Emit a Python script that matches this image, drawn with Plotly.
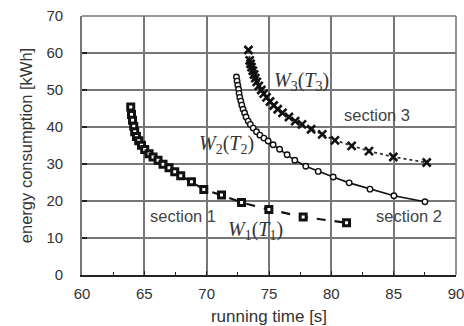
import plotly.graph_objects as go

# Section 1: W1(T1)
t1 = [63.91, 63.97, 64.05, 64.15, 64.23, 64.37, 64.55, 64.77, 65.03, 65.38, 65.70,
      66.10, 66.50, 66.98, 67.44, 67.92, 68.78, 69.77, 71.19, 72.80, 74.99, 77.74, 81.22]
w1 = [45.4, 43.4, 41.8, 40.2, 38.7, 37.4, 36.3, 35.1, 33.9, 32.8, 31.9,
      31.0, 29.9, 29.0, 27.9, 26.8, 25.2, 23.1, 21.6, 19.6, 17.7, 15.7, 14.1]

# Section 2: W2(T2)
t2 = [72.39, 72.44, 72.50, 72.56, 72.60, 72.66, 72.74, 72.82, 72.92, 73.04, 73.16,
      73.33, 73.50, 73.73, 74.00, 74.27, 74.59, 74.93, 75.33, 75.85, 76.45, 77.07,
      77.95, 78.95, 80.15, 81.43, 83.10, 85.02, 87.51]
w2 = [53.5, 52.4, 51.3, 50.2, 49.1, 48.0, 47.0, 45.9, 44.8, 43.8, 42.7,
      41.6, 40.7, 39.7, 38.7, 37.8, 37.0, 36.2, 35.2, 34.0, 32.5, 31.0,
      29.4, 28.0, 26.5, 24.9, 23.2, 21.4, 19.8]

# Section 3: W3(T3)
t3 = [73.35, 73.45, 73.52, 73.60, 73.70, 73.80, 73.90, 74.02, 74.18, 74.38, 74.58,
      74.80, 75.08, 75.38, 75.70, 76.08, 76.60, 77.10, 77.65, 78.38, 79.27, 80.29,
      81.63, 83.02, 84.97, 87.65]
w3 = [60.8, 58.0, 57.1, 56.2, 55.2, 54.2, 53.2, 52.2, 51.1, 50.0, 49.0,
      48.0, 46.9, 45.8, 44.8, 43.8, 42.7, 41.6, 40.7, 39.4, 38.0, 36.4,
      34.9, 33.5, 31.9, 30.4]

x_ticks = [60, 65, 70, 75, 80, 85, 90]
y_ticks = [0, 10, 20, 30, 40, 50, 60, 70]

labels = [
    ("<i>W</i><sub>3</sub>(<i>T</i><sub>3</sub>)", 77.6, 52.2, "serif"),
    ("<i>W</i><sub>2</sub>(<i>T</i><sub>2</sub>)", 71.6, 35.4, "serif"),
    ("<i>W</i><sub>1</sub>(<i>T</i><sub>1</sub>)", 73.9, 12.0, "serif"),
    ("section 3", 83.65, 43.2, "sans"),
    ("section 1", 68.1, 16.0, "sans"),
    ("section 2", 86.2, 16.0, "sans"),
]

GRID = "#777777"

fig = go.Figure()
fig.add_trace(go.Scatter(
    x=t1, y=w1, mode="lines+markers",
    line=dict(color="#111", width=2.2, dash="dash"),
    marker=dict(symbol="square", size=6, color="white",
                line=dict(color="#111", width=3)),
    showlegend=False))
fig.add_trace(go.Scatter(
    x=t2, y=w2, mode="lines+markers",
    line=dict(color="#111", width=1.6),
    marker=dict(symbol="circle", size=5.5, color="white",
                line=dict(color="#111", width=1.4)),
    showlegend=False))
fig.add_trace(go.Scatter(
    x=t3, y=w3, mode="lines+markers",
    line=dict(color="#333", width=1.8, dash="dot"),
    marker=dict(symbol="x-thin", size=8, color="#111",
                line=dict(color="#111", width=2.6)),
    showlegend=False))

for txt, x, y, kind in labels:
    if kind == "serif":
        font = dict(family="Liberation Serif, Times New Roman, serif", size=20, color="#333")
    else:
        font = dict(family="Liberation Sans, Arial, sans-serif", size=16.5, color="#444")
    fig.add_annotation(x=x, y=y, text=txt, showarrow=False, font=font,
                       bgcolor="rgba(255,255,255,0)", xanchor="center", yanchor="middle")

fig.update_layout(
    width=464, height=326,
    margin=dict(l=82, r=8, t=16, b=51, autoexpand=False),
    paper_bgcolor="white", plot_bgcolor="white",
    font=dict(family="Liberation Sans, Arial, sans-serif", color="#333"),
)
fig.update_xaxes(
    range=[60, 90], tickvals=x_ticks, ticktext=[str(v) for v in x_ticks],
    showgrid=True, gridcolor=GRID, gridwidth=1.6, automargin=False,
    showline=True, linecolor="#222", linewidth=1.5, mirror=False,
    ticks="inside", ticklen=4, tickcolor="#222", tickwidth=1.3,
    minor=dict(tickvals=[62.5, 67.5, 72.5, 77.5, 82.5, 87.5], ticks="inside",
               ticklen=3, tickcolor="#222", tickwidth=1.3, showgrid=False),
    tickfont=dict(size=15, color="#333"), ticklabelstandoff=4,
    ticklabeloverflow="allow",
    title=dict(text="running time [s]", font=dict(size=17, color="#333"), standoff=14),
    zeroline=False,
)
fig.update_yaxes(
    range=[0, 70], tickvals=y_ticks, ticktext=[str(v) for v in y_ticks],
    showgrid=True, gridcolor=GRID, gridwidth=1.6, automargin=False,
    showline=True, linecolor=GRID, linewidth=1.6,
    ticks="inside", ticklen=5, tickcolor="#222", tickwidth=1.5,
    tickfont=dict(size=15, color="#333"), ticklabelstandoff=14,
    ticklabeloverflow="allow",
    title=dict(text="energy consumption [kWh]", font=dict(size=16.5, color="#333"), standoff=10),
    zeroline=False,
)
# top and right border
fig.add_shape(type="line", xref="paper", yref="paper", x0=1, x1=1, y0=0, y1=1,
              line=dict(color=GRID, width=1.6))
fig.add_shape(type="line", xref="paper", yref="paper", x0=0, x1=1, y0=1, y1=1,
              line=dict(color=GRID, width=1.6))

fig.write_html("out.html", config={"displayModeBar": False},
               post_script="document.body.style.margin='0';document.body.style.overflow='hidden';")
